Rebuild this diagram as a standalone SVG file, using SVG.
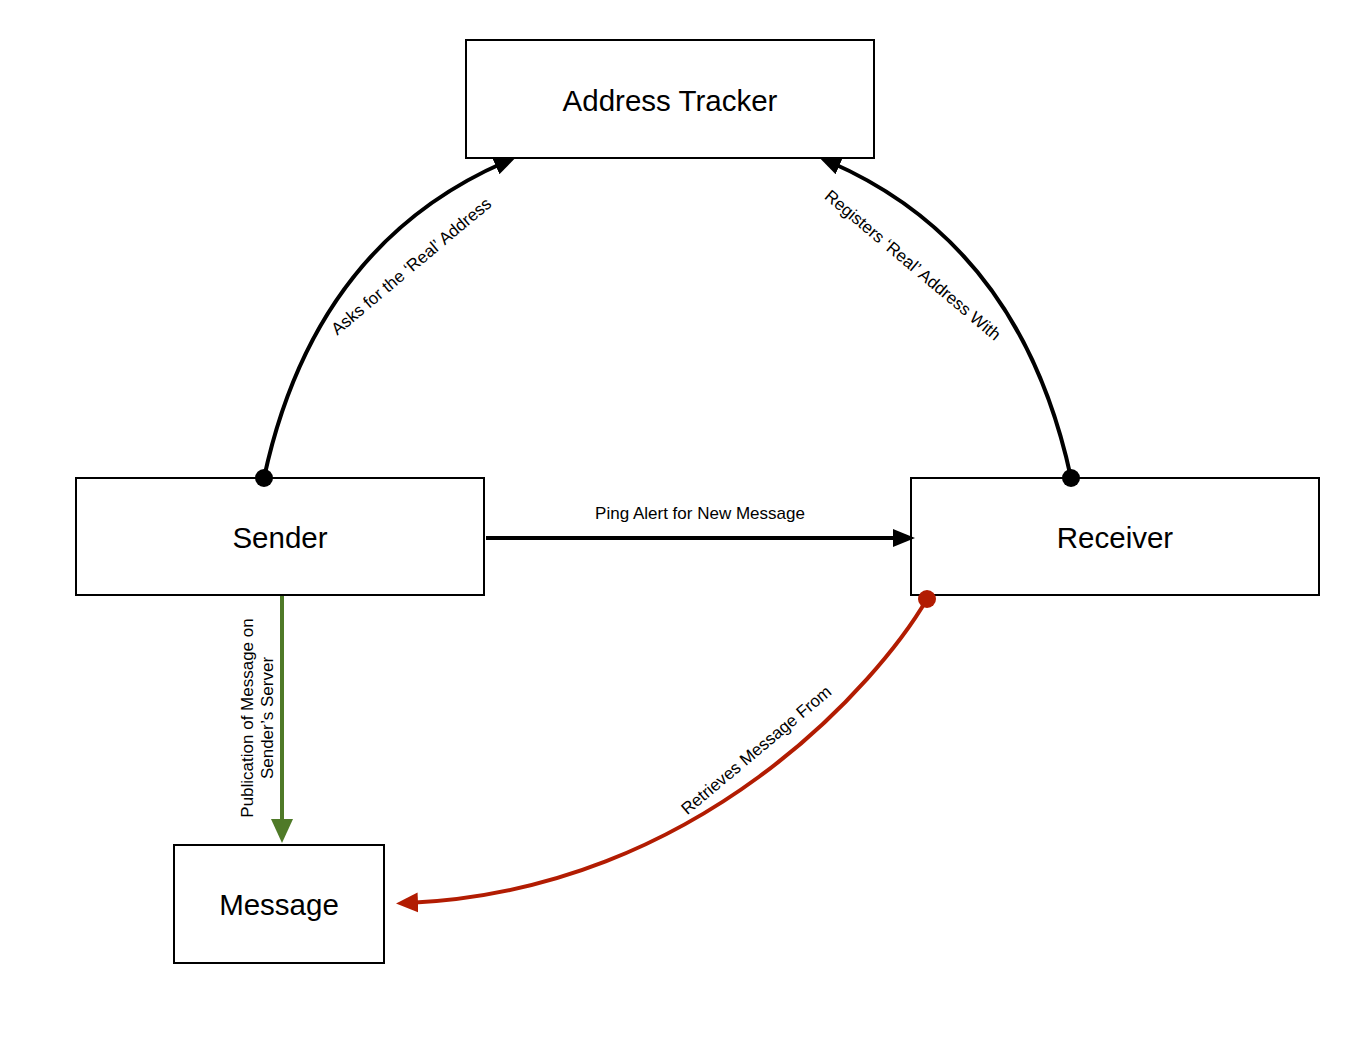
<svg xmlns="http://www.w3.org/2000/svg" width="1372" height="1046" viewBox="0 0 1372 1046">
<style>
.box{fill:#fff;stroke:#000;stroke-width:2}
.nl{font-family:"Liberation Sans",Arial,sans-serif;font-size:29.5px;fill:#000;text-anchor:middle}
.el{font-family:"Liberation Sans",Arial,sans-serif;font-size:17px;fill:#000;text-anchor:middle}
.k{fill:none;stroke:#000;stroke-width:4}
.g{fill:none;stroke:#4f7a28;stroke-width:4}
.r{fill:none;stroke:#b21c02;stroke-width:4}
</style>
<defs>
<marker id="ak" markerUnits="userSpaceOnUse" markerWidth="24" markerHeight="20" refX="10" refY="9" orient="auto"><path d="M0,0 L22,9 L0,18 Z" fill="#000"/></marker>
<marker id="ag" markerUnits="userSpaceOnUse" markerWidth="26" markerHeight="24" refX="12" refY="11" orient="auto"><path d="M0,0 L24,11 L0,22 Z" fill="#4f7a28"/></marker>
<marker id="ar" markerUnits="userSpaceOnUse" markerWidth="24" markerHeight="22" refX="10" refY="10" orient="auto"><path d="M0,0 L22,10 L0,20 Z" fill="#b21c02"/></marker>
</defs>
<rect width="1372" height="1046" fill="#fff"/>
<g id="address-tracker"><rect class="box" x="466" y="40" width="408" height="118"/><text class="nl" x="670" y="111">Address Tracker</text></g>
<g id="sender"><rect class="box" x="76" y="478" width="408" height="117"/><text class="nl" x="280" y="548">Sender</text></g>
<g id="receiver"><rect class="box" x="911" y="478" width="408" height="117"/><text class="nl" x="1115" y="548">Receiver</text></g>
<g id="message"><rect class="box" x="174" y="845" width="210" height="118"/><text class="nl" x="279" y="915">Message</text></g>
<g id="connectors">
<path class="k" d="M264,478 Q314,245 505,162" marker-end="url(#ak)"/>
<circle cx="264" cy="478" r="9" fill="#000"/>
<path class="k" d="M1071,478 Q1021,245 830,162" marker-end="url(#ak)"/>
<circle cx="1071" cy="478" r="9" fill="#000"/>
<path class="k" d="M486,538 L903,538" marker-end="url(#ak)"/>
<path class="g" d="M282,596 L282,831" marker-end="url(#ag)"/>
<path class="r" d="M927,599 C880,680 700,890 408,903" marker-end="url(#ar)"/>
<circle cx="927" cy="599" r="9" fill="#b21c02"/>
<g transform="translate(411,266) rotate(-40)"><text class="el" x="0" y="6">Asks for the ‘Real’ Address</text></g>
<g transform="translate(913,265) rotate(40)"><text class="el" x="0" y="6">Registers ‘Real’ Address With</text></g>
<text class="el" x="700" y="519">Ping Alert for New Message</text>
<g transform="translate(253,718) rotate(-90)"><text class="el" x="0" y="0">Publication of Message on</text><text class="el" x="0" y="20">Sender’s Server</text></g>
<g transform="translate(756,750) rotate(-40)"><text class="el" x="0" y="6">Retrieves Message From</text></g>
</g>
</svg>
